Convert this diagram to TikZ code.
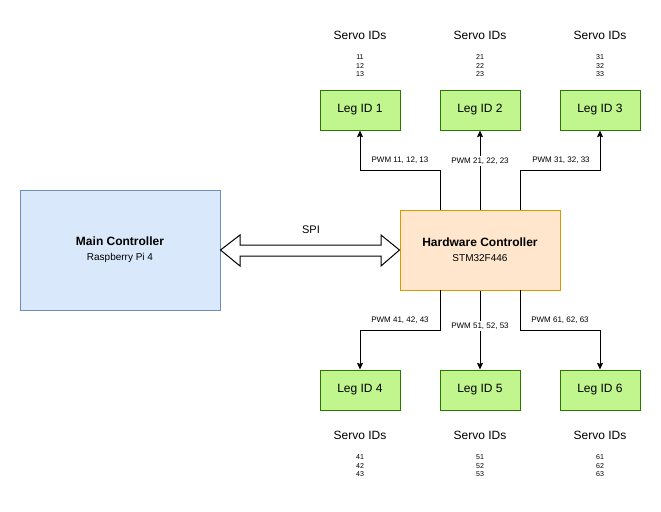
\documentclass[tikz,border=0pt]{standalone}
\usepackage{fontspec}
\setmainfont{Liberation Sans}
\usetikzlibrary{arrows.meta}
\definecolor{legfill}{HTML}{C1F58D}
\definecolor{legdraw}{HTML}{2D7600}
\definecolor{mainfill}{HTML}{DAE8FC}
\definecolor{maindraw}{HTML}{6C8EBF}
\definecolor{hwfill}{HTML}{FFE6CC}
\definecolor{hwdraw}{HTML}{D79B00}
\definecolor{txt}{HTML}{1A1A1A}
\tikzset{
  legbox/.style={draw=legdraw, fill=legfill, line width=0.75pt, minimum width=60pt, minimum height=30pt, inner sep=0pt, font=\fontsize{9}{10}\selectfont},
  mainbox/.style={draw=maindraw, fill=mainfill, line width=0.75pt, minimum width=150pt, minimum height=90pt, inner sep=0pt, align=center},
  hwbox/.style={draw=hwdraw, fill=hwfill, line width=0.75pt, minimum width=120pt, minimum height=60pt, inner sep=0pt, align=center},
  servolbl/.style={font=\fontsize{9}{10}\selectfont, inner sep=0pt},
  idlbl/.style={font=\fontsize{5.3}{6.4}\selectfont, align=center, inner sep=0pt},
  pwmlbl/.style={font=\fontsize{6}{7}\selectfont, inner sep=1pt},
  conn/.style={line width=0.75pt, -{Stealth[length=5pt,width=4.5pt,inset=0.8pt]}},
}
\begin{document}
\begin{tikzpicture}[x=0.75pt,y=-0.75pt]
\useasboundingbox (0,0) rectangle (661,511);
% boxes
\node[mainbox] (main) at (120,250) {\fontsize{9}{11}\selectfont\textbf{Main Controller}\\[-1pt]\fontsize{7.5}{9}\selectfont Raspberry Pi 4};
\node[hwbox] (hw) at (480,250) {\fontsize{9}{11}\selectfont\textbf{Hardware Controller}\\[-1pt]\fontsize{7.5}{9}\selectfont STM32F446};
\node[legbox] (l1) at (360,110) {Leg ID 1};
\node[legbox] (l2) at (480,110) {Leg ID 2};
\node[legbox] (l3) at (600,110) {Leg ID 3};
\node[legbox] (l4) at (360,390) {Leg ID 4};
\node[legbox] (l5) at (480,390) {Leg ID 5};
\node[legbox] (l6) at (600,390) {Leg ID 6};
% servo labels
\node[servolbl] (s1) at (360,35) {Servo IDs};
\node[servolbl] (s2) at (480,35) {Servo IDs};
\node[servolbl] (s3) at (600,35) {Servo IDs};
\node[servolbl] (s4) at (360,435) {Servo IDs};
\node[servolbl] (s5) at (480,435) {Servo IDs};
\node[servolbl] (s6) at (600,435) {Servo IDs};
\node[idlbl] (i1) at (360,66) {11\\12\\13};
\node[idlbl] (i2) at (480,66) {21\\22\\23};
\node[idlbl] (i3) at (600,66) {31\\32\\33};
\node[idlbl] (i4) at (360,466) {41\\42\\43};
\node[idlbl] (i5) at (480,466) {51\\52\\53};
\node[idlbl] (i6) at (600,466) {61\\62\\63};
% connectors top
\coordinate (t1) at (440,210);
\coordinate (t3) at (520,210);
\coordinate (b1) at (440,290);
\coordinate (b3) at (520,290);
\draw[conn] (t1) |- (360,170) -- (l1.south);
\draw[conn] (hw.north) -- (l2.south);
\draw[conn] (t3) |- (600,170) -- (l3.south);
\draw[conn] (b1) |- (360,330) -- (l4.north);
\draw[conn] (hw.south) -- (l5.north);
\draw[conn] (b3) |- (600,330) -- (l6.north);
% pwm labels
\node[pwmlbl] (p1) at (400,160) {PWM 11, 12, 13};
\node[pwmlbl, fill=white] (p2) at (480,161) {PWM 21, 22, 23};
\node[pwmlbl] (p3) at (561,160) {PWM 31, 32, 33};
\node[pwmlbl] (p4) at (400,320) {PWM 41, 42, 43};
\node[pwmlbl, fill=white] (p5) at (480,326) {PWM 51, 52, 53};
\node[pwmlbl] (p6) at (560,320) {PWM 61, 62, 63};
% SPI double arrow
\draw[line width=0.75pt, fill=white]
  (main.east) -- (240,235) -- (240,245) -- (381,245) -- (381,235) -- (hw.west)
  -- (381,266) -- (381,256) -- (240,256) -- (240,266) -- cycle;
\node[font=\fontsize{8.25}{10}\selectfont, inner sep=0pt] (spi) at (311,230) {SPI};
\end{tikzpicture}
\end{document}
